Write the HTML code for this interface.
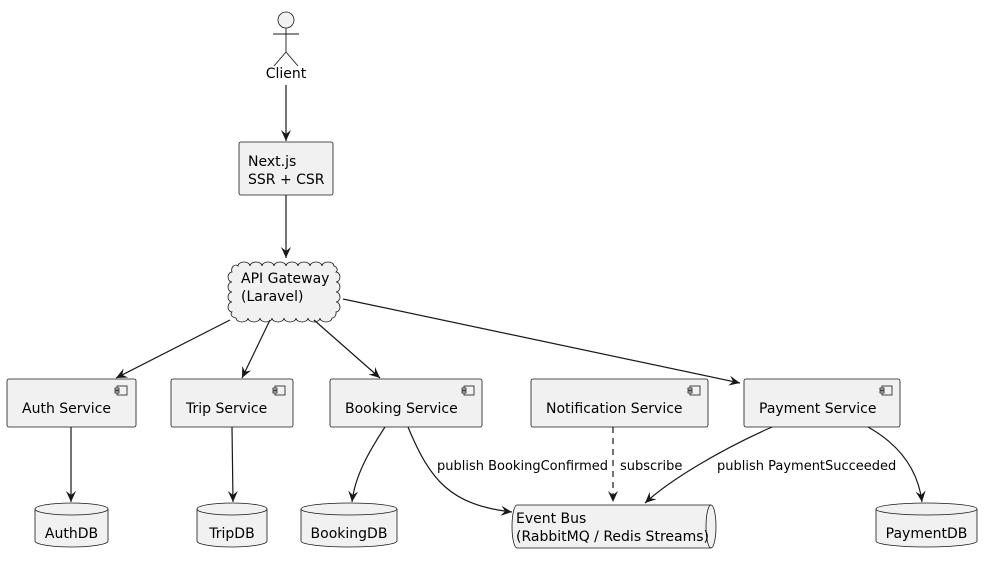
<!DOCTYPE html>
<html><head><meta charset="utf-8"><style>
html,body{margin:0;padding:0;background:#fff}
svg{display:block}
text{font-family:"DejaVu Sans","Liberation Sans",sans-serif;font-size:14px;fill:#000}
text.e{font-size:13px}
.b{fill:#f1f1f1;stroke:#181818;stroke-width:0.8}
.l{stroke:#181818;stroke-width:1.2;fill:none}
</style></head><body>
<svg width="994" height="564" viewBox="0 0 994 564" xmlns="http://www.w3.org/2000/svg">
<defs>
<marker id="a" viewBox="0 0 12 10" refX="11" refY="5" markerWidth="12" markerHeight="10" markerUnits="userSpaceOnUse" orient="auto">
<path d="M0,0 L11,5 L0,10 L4,5 Z" fill="#181818"/></marker>
<g id="ci"><rect x="0" y="0" width="10" height="9" fill="#f1f1f1" stroke="#181818" stroke-width="0.8"/><rect x="-2" y="2" width="4" height="2" fill="#f1f1f1" stroke="#181818" stroke-width="0.8"/><rect x="-2" y="5" width="4" height="2" fill="#f1f1f1" stroke="#181818" stroke-width="0.8"/></g>
</defs>
<circle cx="286" cy="20" r="8" class="b"/>
<path d="M286,28 V52 M273,34 H299 M286,52 L274,66 M286,52 L298,66" class="l" style="stroke-width:0.9"/>
<text x="286" y="78" text-anchor="middle">Client</text>
<path d="M286,85 V141" class="l" marker-end="url(#a)"/>
<rect x="239" y="142" width="94" height="53" rx="2" class="b"/>
<text x="248" y="166">Next.js</text><text x="248" y="184">SSR + CSR</text>
<path d="M286,195 V258" class="l" marker-end="url(#a)"/>
<path class="b" d="M238,266 a6,4 0 0 1 12,0 a6,4 0 0 1 12,0 a6,4 0 0 1 12,0 a6,4 0 0 1 12,0 a6,4 0 0 1 12,0 a6,4 0 0 1 12,0 a6,4 0 0 1 12,0 a6,4 0 0 1 12,0 a6,4 0 0 1 2,6
 a4,5 0 0 1 0,10 a4,5 0 0 1 0,10 a4,5 0 0 1 0,10 a4,5 0 0 1 0,10 a4,5 0 0 1 -4,6
 a6,4 0 0 1 -12,0 a6,4 0 0 1 -12,0 a6,4 0 0 1 -12,0 a6,4 0 0 1 -12,0 a6,4 0 0 1 -12,0 a6,4 0 0 1 -12,0 a6,4 0 0 1 -12,0 a6,4 0 0 1 -12,0 a6,4 0 0 1 -4,-6
 a4,5 0 0 1 0,-10 a4,5 0 0 1 0,-10 a4,5 0 0 1 0,-10 a4,5 0 0 1 0,-10 a4,5 0 0 1 6,-6 Z"/>
<text x="241" y="283">API Gateway</text><text x="241" y="301">(Laravel)</text>
<path d="M230,320 L116,378" class="l" marker-end="url(#a)"/>
<path d="M270,320 L242,378" class="l" marker-end="url(#a)"/>
<path d="M314,320 L380,378" class="l" marker-end="url(#a)"/>
<path d="M343,299 L740,383" class="l" marker-end="url(#a)"/>
<rect x="7" y="379" width="129" height="48" rx="2" class="b"/><use href="#ci" x="117" y="386"/><text x="22" y="413">Auth Service</text>
<rect x="171" y="379" width="122" height="48" rx="2" class="b"/><use href="#ci" x="275" y="386"/><text x="186" y="413">Trip Service</text>
<rect x="330" y="379" width="152" height="48" rx="2" class="b"/><use href="#ci" x="464" y="386"/><text x="345" y="413">Booking Service</text>
<rect x="531" y="379" width="177" height="48" rx="2" class="b"/><use href="#ci" x="690" y="386"/><text x="546" y="413">Notification Service</text>
<rect x="744" y="379" width="156" height="48" rx="2" class="b"/><use href="#ci" x="882" y="386"/><text x="759" y="413">Payment Service</text>
<path d="M71,427 V502" class="l" marker-end="url(#a)"/>
<path d="M232,427 L233,502" class="l" marker-end="url(#a)"/>
<path d="M385,427 C370,450 355,475 352,502" class="l" marker-end="url(#a)"/>
<path d="M408,427 C430,480 450,505 512,512" class="l" marker-end="url(#a)"/>
<text class="e" x="437" y="470">publish BookingConfirmed</text>
<path d="M613,427 V502" class="l" stroke-dasharray="6,5" marker-end="url(#a)"/>
<text class="e" x="620" y="470">subscribe</text>
<path d="M772,427 C720,450 670,480 645,503" class="l" marker-end="url(#a)"/>
<text class="e" x="717" y="470">publish PaymentSucceeded</text>
<path d="M868,427 C900,445 918,470 922,502" class="l" marker-end="url(#a)"/>
<g>
<path class="b" d="M35,509 A36.5,6 0 0 1 108,509 V541 A36.5,6 0 0 1 35,541 Z"/><path class="l" style="stroke-width:0.8" d="M35,509 A36.5,6 0 0 0 108,509"/><text x="71.5" y="538" text-anchor="middle">AuthDB</text>
<path class="b" d="M197,509 A35,6 0 0 1 267,509 V541 A35,6 0 0 1 197,541 Z"/><path class="l" style="stroke-width:0.8" d="M197,509 A35,6 0 0 0 267,509"/><text x="232" y="538" text-anchor="middle">TripDB</text>
<path class="b" d="M301,509 A48,6 0 0 1 397,509 V541 A48,6 0 0 1 301,541 Z"/><path class="l" style="stroke-width:0.8" d="M301,509 A48,6 0 0 0 397,509"/><text x="349" y="538" text-anchor="middle">BookingDB</text>
<path class="b" d="M876,509 A50.5,6 0 0 1 977,509 V541 A50.5,6 0 0 1 876,541 Z"/><path class="l" style="stroke-width:0.8" d="M876,509 A50.5,6 0 0 0 977,509"/><text x="926.5" y="538" text-anchor="middle">PaymentDB</text>
</g>
<path class="b" d="M517,505 H711 A5,21.5 0 0 1 711,548 H517 A5,21.5 0 0 1 517,505 Z"/>
<path class="l" style="stroke-width:0.8" d="M711,505 A5,21.5 0 0 0 711,548"/>
<text x="516" y="523">Event Bus</text><text x="516" y="541">(RabbitMQ / Redis Streams)</text>
</svg>
</body></html>
